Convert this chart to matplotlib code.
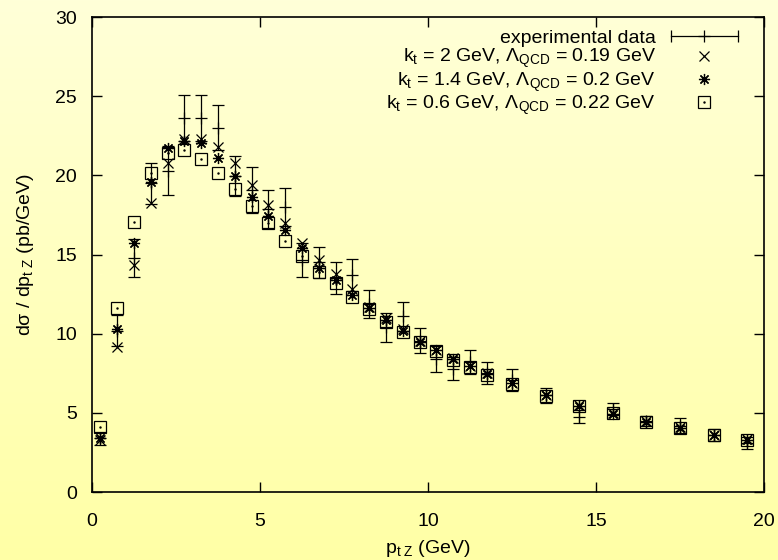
import numpy as np
import matplotlib
matplotlib.use("Agg")
import matplotlib.pyplot as plt
from matplotlib.lines import Line2D
from matplotlib.legend_handler import HandlerBase

plt.rcParams['font.family'] = ['Liberation Sans', 'DejaVu Sans']
plt.rcParams['mathtext.fontset'] = 'custom'
plt.rcParams['mathtext.rm'] = 'Liberation Sans'
plt.rcParams['mathtext.it'] = 'Liberation Sans'

# p_tZ bins
pt = [0.25, 0.75, 1.25, 1.75, 2.25, 2.75, 3.25, 3.75, 4.25, 4.75, 5.25, 5.75,
      6.25, 6.75, 7.25, 7.75, 8.25, 8.75, 9.25, 9.75, 10.25, 10.75, 11.25, 11.75,
      12.5, 13.5, 14.5, 15.5, 16.5, 17.5, 18.5, 19.5]

# experimental data with errors
exp_val = [3.4, 10.2, 14.8, 19.5, 20.3, 23.65, 23.6, 23.0, 19.95, 19.1, 17.9, 18.0,
           14.65, 14.5, 13.5, 13.7, 11.9, 10.4, 11.1, 9.55, 8.4, 7.8, 8.2, 7.5,
           7.05, 6.1, 4.75, 5.25, 4.5, 4.2, 3.6, 3.1]
exp_err = [0.4, 1.0, 1.2, 1.3, 1.55, 1.45, 1.45, 1.42, 1.25, 1.45, 1.2, 1.23,
           1.05, 0.97, 1.0, 1.0, 0.88, 0.9, 0.9, 0.8, 0.8, 0.75, 0.75, 0.7,
           0.7, 0.5, 0.4, 0.4, 0.3, 0.45, 0.4, 0.4]

# model curves
kt20 = [3.28, 9.14, 14.34, 18.28, 20.76, 22.3, 22.28, 21.77, 20.76, 19.39, 18.13, 17.0,
        15.7, 14.66, 13.77, 12.8, 11.7, 11.0, 10.3, 9.55, 9.0, 8.45, 7.95, 7.5,
        6.9, 6.13, 5.5, 4.97, 4.48, 4.09, 3.6, 3.33]
kt14 = [3.43, 10.3, 15.75, 19.56, 21.7, 22.2, 22.03, 21.08, 19.96, 18.66, 17.46, 16.55,
        15.39, 14.15, 13.39, 12.44, 11.6, 10.85, 10.15, 9.5, 8.97, 8.42, 7.93, 7.47,
        6.88, 6.1, 5.45, 4.95, 4.45, 4.07, 3.57, 3.3]
kt06 = [4.12, 11.6, 17.05, 20.17, 21.43, 21.6, 21.06, 20.13, 19.12, 18.07, 16.97, 15.87,
        14.9, 13.92, 13.18, 12.3, 11.55, 10.75, 10.1, 9.45, 8.9, 8.35, 7.88, 7.42,
        6.85, 6.05, 5.45, 4.97, 4.45, 4.05, 3.58, 3.3]

labels = ['experimental data',
          r'k$_\mathrm{t}$ = 2 GeV, Λ$_\mathrm{QCD}$ = 0.19 GeV',
          r'k$_\mathrm{t}$ = 1.4 GeV, Λ$_\mathrm{QCD}$ = 0.2 GeV',
          r'k$_\mathrm{t}$ = 0.6 GeV, Λ$_\mathrm{QCD}$ = 0.22 GeV']

fs = 14


class ErrKey(HandlerBase):
    # gnuplot style key sample: horizontal bar with caps and a + in the middle
    def create_artists(self, legend, orig_handle, xdescent, ydescent, width, height, fontsize, trans):
        y = height / 2 - ydescent
        x0, x1 = -xdescent, width - xdescent
        line = Line2D([x0, x1], [y, y], color='k', lw=0.9)
        caps = Line2D([x0, x1], [y, y], ls='none', marker='|', ms=8, mew=0.9, color='k')
        mid = Line2D([(x0 + x1) / 2], [y], ls='none', marker='+', ms=8, mew=0.9, color='k')
        for a in (line, caps, mid):
            a.set_transform(trans)
        return [line, caps, mid]


fig = plt.figure(figsize=(7.78, 5.6), dpi=100)

# yellow gradient background
bg = fig.add_axes([0, 0, 1, 1], zorder=-1)
grad = np.linspace(0, 1, 256).reshape(-1, 1)
top = np.array([255, 255, 216]) / 255
bot = np.array([255, 255, 166]) / 255
img = top[None, None, :] * (1 - grad[:, :, None]) + bot[None, None, :] * grad[:, :, None]
bg.imshow(img, aspect='auto', extent=[0, 1, 0, 1])
bg.axis('off')

ax = fig.add_axes([0.1183, 0.1214, 0.8637, 0.8482])
ax.set_facecolor('none')

exp = ax.errorbar(pt, exp_val, yerr=exp_err, fmt='+', color='k', ms=8, mew=0.9,
                  elinewidth=0.9, capsize=4, capthick=0.9)
m1, = ax.plot(pt, kt20, ls='none', marker='x', ms=7, mew=0.9, color='k')
m2, = ax.plot(pt, kt14, ls='none', marker=(8, 2, 0), ms=8, mew=0.9, color='k')
m3, = ax.plot(pt, kt06, ls='none', marker='s', ms=8, mew=0.9, mfc='none', mec='k')
dot, = ax.plot(pt, kt06, ls='none', marker='.', ms=1.5, color='k')

ax.set_xlim(0, 20)
ax.set_ylim(0, 30)
ax.set_xticks([0, 5, 10, 15, 20])
ax.set_yticks([0, 5, 10, 15, 20, 25, 30])
ax.tick_params(direction='in', length=7, width=1, top=True, right=True, labelsize=fs)
ax.tick_params(axis='x', pad=15)
ax.tick_params(axis='y', pad=11)
for s in ax.spines.values():
    s.set_linewidth(1.2)

ax.set_xlabel(r'p$_\mathrm{t\ Z}$ (GeV)', fontsize=fs, labelpad=6)
ax.set_ylabel(r'dσ / dp$_\mathrm{t\ Z}$ (pb/GeV)', fontsize=fs, labelpad=14)

leg = ax.legend([exp, m1, m2, (m3, dot)], labels, loc='upper right', bbox_to_anchor=(0.978, 0.998),
                frameon=False, markerfirst=False, fontsize=fs, handlelength=3.4,
                handletextpad=0.8, labelspacing=0.0, borderaxespad=0.2,
                handler_map={exp: ErrKey()})

fig.savefig('out.png', dpi=100)
